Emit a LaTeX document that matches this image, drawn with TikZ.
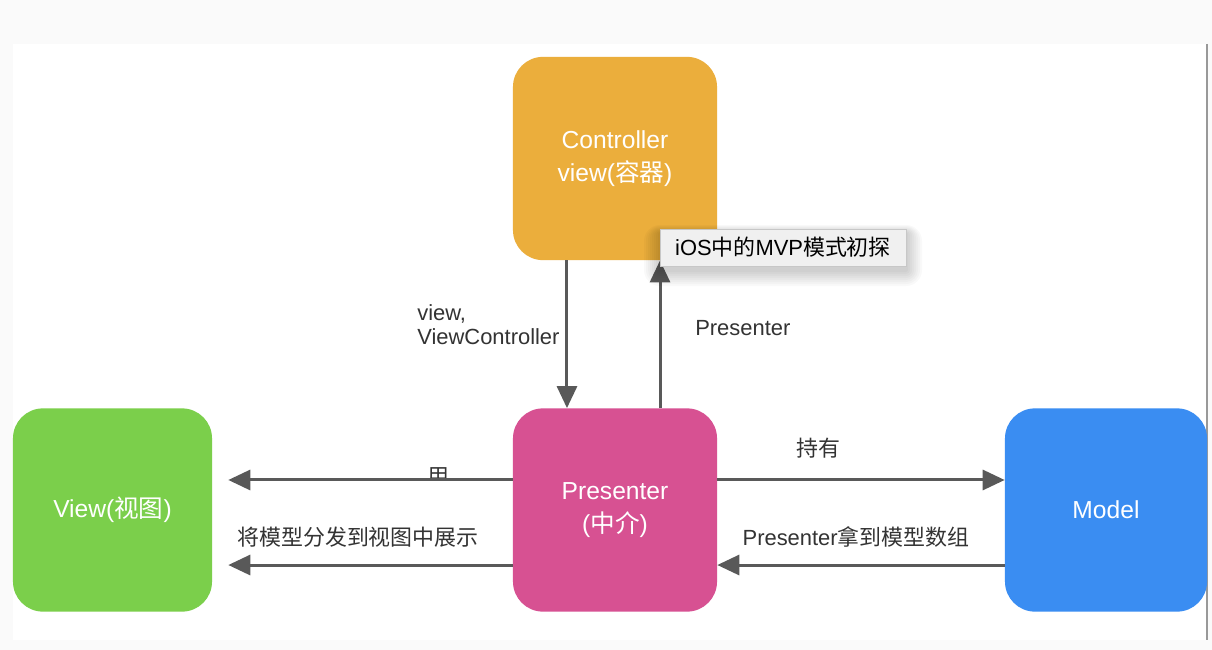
\documentclass[tikz,border=0pt]{standalone}
\usepackage{fontspec}
\setmainfont{Liberation Sans}
\newfontfamily\cjk{Noto Sans CJK SC}
\usetikzlibrary{arrows.meta}

\definecolor{ctrlorange}{HTML}{EBAE3C}
\definecolor{prespink}{HTML}{D75192}
\definecolor{viewgreen}{HTML}{7BCF4B}
\definecolor{modelblue}{HTML}{3A8DF2}
\definecolor{arrgray}{HTML}{595959}
\definecolor{lblgray}{HTML}{333333}
\newcommand\zh[1]{{\cjk #1}}

\tikzset{
    box/.style={rectangle, rounded corners=0.75cm, minimum width=5.1cm, minimum height=5.08cm,
        text=white, align=center, inner sep=0pt,
        font=\fontsize{17.5pt}{23pt}\selectfont},
    lbl/.style={text=lblgray, inner sep=0pt, font=\fontsize{15.6pt}{17pt}\selectfont},
    arr/.style={draw=arrgray, line width=0.075cm, -{Triangle[length=0.55cm, width=0.5cm]}},
    tipbox/.style={rectangle, fill=black!6, draw=black!22, minimum width=6.15cm, minimum height=0.925cm,
        inner sep=0pt, font=\fontsize{15.6pt}{17pt}\selectfont}
}

\begin{document}
\begin{tikzpicture}[x=0.025cm, y=-0.025cm]
    \useasboundingbox (0,0) rectangle (1212,650);
    \fill[black!2] (0,0) rectangle (1212,650);
    \fill[white] (13,44) rectangle (1206,640);
    \draw[black!40, line width=0.05cm] (1207,44) -- (1207,640);

    \node[box, fill=ctrlorange] (ctrl) at (615,158.5) {Controller\\view(\zh{容器})};
    \node[box, fill=prespink] (pres) at (615,510) {Presenter\\(\zh{中介})};
    \node[box, fill=viewgreen, minimum width=4.975cm] (view) at (112.5,510) {View(\zh{视图})};
    \node[box, fill=modelblue, minimum width=5.05cm] (model) at (1106,510) {Model};

    \begin{scope}
        \clip (400,440) rectangle (480,480);
        \node[lbl] (yong) at (438,477) {\zh{用}};
    \end{scope}

    \draw[arr] ([xshift=-1.2cm]ctrl.south) -- ([xshift=-1.2cm]pres.north);
    \draw[arr] ([xshift=1.125cm]pres.north) -- ([xshift=1.125cm]ctrl.south);
    \draw[arr, shorten >=0.4cm] ([yshift=0.75cm]pres.west) -- ([yshift=0.75cm]view.east);
    \draw[arr, shorten >=0.4cm] ([yshift=-1.375cm]pres.west) -- ([yshift=-1.375cm]view.east);
    \draw[arr] ([yshift=0.75cm]pres.east) -- ([yshift=0.75cm]model.west);
    \draw[arr] ([yshift=-1.375cm]model.west) -- ([yshift=-1.375cm]pres.east);

    \node[lbl, anchor=west, align=left] (vclbl) at (417,325) {view,\\ViewController};
    \node[lbl, anchor=west] (plbl) at (695,328) {Presenter};
    \node[lbl] (holdlbl) at (818,448) {\zh{持有}};
    \node[lbl] (getlbl) at (856,537) {Presenter\zh{拿到模型数组}};
    \node[lbl] (showlbl) at (358,537) {\zh{将模型分发到视图中展示}};

    % soft shadow under the tooltip
    \foreach \s in {2,4,...,16}
        \fill[black, opacity=0.025, rounded corners=\s*0.025cm]
            (660-\s,233-\s*0.5) rectangle (906+\s,270+\s);
    \node[tipbox] (tip) at (783,247.5) {iOS\zh{中的}MVP\zh{模式初探}};
\end{tikzpicture}
\end{document}
